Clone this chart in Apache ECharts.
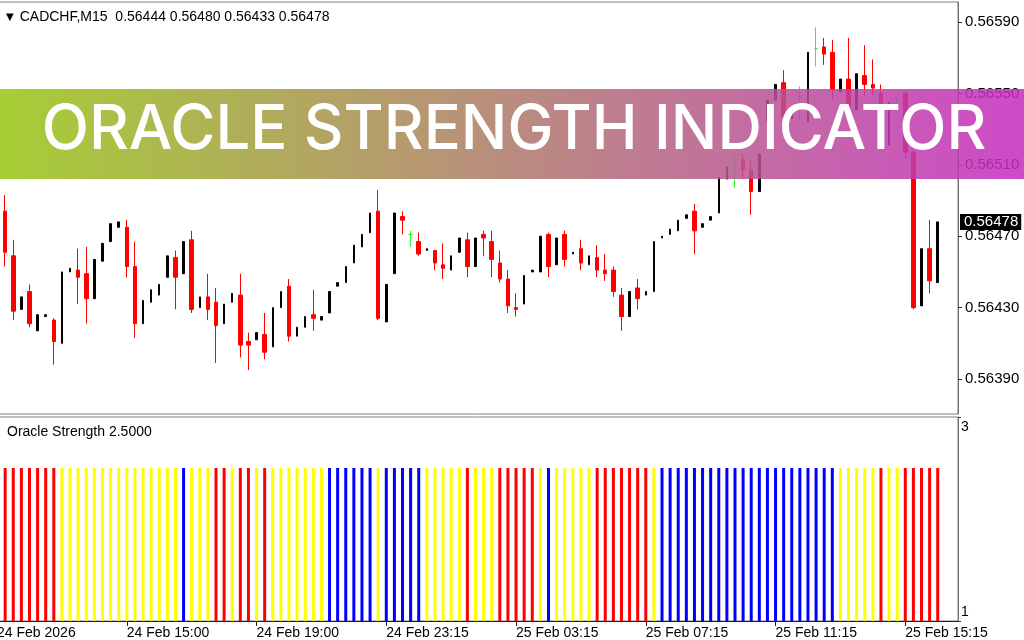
<!DOCTYPE html>
<html><head><meta charset="utf-8">
<script src="https://cdn.jsdelivr.net/npm/echarts@6/dist/echarts.min.js"></script>
<style>html,body{margin:0;padding:0;background:#fff}#c{width:1024px;height:640px}</style>
</head><body><div id="c"></div>
<script>
const symbolText = 'CADCHF,M15';
const headerOHLC = ['0.56444', '0.56480', '0.56433', '0.56478'];
const indicatorLabel = 'Oracle Strength 2.5000';
const bannerTitle = 'ORACLE STRENGTH INDICATOR';
const priceTicks = [0.56390, 0.56430, 0.56470, 0.56510, 0.56550, 0.56590];
const strengthTicks = [1, 3];
const timeTicks = ['24 Feb 2026', '24 Feb 15:00', '24 Feb 19:00', '24 Feb 23:15', '25 Feb 03:15', '25 Feb 07:15', '25 Feb 11:15', '25 Feb 15:15'];

const opens = [0.56484,0.56459,0.56429,0.56439,0.56417,0.56425,0.56423,0.56410,0.56450,0.56451,0.56449,0.56435,0.56456,0.56467,0.56475,0.56475,0.56453,0.56421,0.56433,0.56437,0.56447,0.56458,0.56449,0.56468,0.56430,0.56436,0.56433,0.56421,0.56433,0.56437,0.56411,0.56412,0.56415,0.56408,0.56430,0.56442,0.56414,0.56419,0.56426,0.56423,0.56427,0.56442,0.56444,0.56455,0.56464,0.56472,0.56484,0.56422,0.56449,0.56481,0.56471,0.56467,0.56462,0.56462,0.56454,0.56451,0.56461,0.56468,0.56453,0.56471,0.56467,0.56455,0.56446,0.56430,0.56432,0.56450,0.56450,0.56471,0.56454,0.56471,0.56460,0.56463,0.56454,0.56458,0.56451,0.56451,0.56437,0.56425,0.56441,0.56437,0.56439,0.56469,0.56471,0.56473,0.56480,0.56484,0.56475,0.56479,0.56483,0.56502,0.56509,0.56513,0.56507,0.56495,0.56534,0.56546,0.56556,0.56536,0.56548,0.56534,0.56575,0.56576,0.56573,0.56551,0.56558,0.56541,0.56560,0.56555,0.56550,0.56521,0.56547,0.56550,0.56517,0.56431,0.56463,0.56444];
const highs = [0.56493,0.56468,0.56436,0.56443,0.56426,0.56426,0.56424,0.56450,0.56452,0.56463,0.56464,0.56457,0.56466,0.56477,0.56478,0.56479,0.56467,0.56434,0.56440,0.56443,0.56459,0.56462,0.56467,0.56473,0.56436,0.56449,0.56441,0.56432,0.56438,0.56449,0.56416,0.56416,0.56427,0.56430,0.56439,0.56446,0.56419,0.56425,0.56440,0.56425,0.56439,0.56444,0.56453,0.56465,0.56471,0.56483,0.56496,0.56443,0.56483,0.56484,0.56473,0.56472,0.56463,0.56462,0.56466,0.56459,0.56469,0.56472,0.56469,0.56473,0.56473,0.56462,0.56451,0.56438,0.56448,0.56451,0.56470,0.56472,0.56469,0.56473,0.56461,0.56468,0.56459,0.56465,0.56460,0.56453,0.56441,0.56439,0.56446,0.56439,0.56467,0.56470,0.56474,0.56479,0.56482,0.56488,0.56477,0.56481,0.56503,0.56509,0.56515,0.56516,0.56513,0.56516,0.56546,0.56555,0.56563,0.56540,0.56554,0.56573,0.56587,0.56581,0.56580,0.56558,0.56581,0.56561,0.56577,0.56569,0.56555,0.56545,0.56548,0.56551,0.56518,0.56463,0.56479,0.56478];
const lows = [0.56453,0.56423,0.56429,0.56419,0.56417,0.56425,0.56398,0.56410,0.56450,0.56432,0.56421,0.56435,0.56456,0.56467,0.56475,0.56447,0.56413,0.56421,0.56433,0.56437,0.56447,0.56429,0.56449,0.56427,0.56430,0.56423,0.56399,0.56421,0.56433,0.56402,0.56395,0.56412,0.56401,0.56408,0.56430,0.56411,0.56414,0.56419,0.56417,0.56423,0.56427,0.56442,0.56444,0.56455,0.56464,0.56472,0.56423,0.56422,0.56449,0.56471,0.56464,0.56459,0.56462,0.56451,0.56446,0.56451,0.56461,0.56447,0.56453,0.56459,0.56447,0.56444,0.56427,0.56425,0.56432,0.56450,0.56450,0.56447,0.56454,0.56453,0.56460,0.56451,0.56454,0.56447,0.56445,0.56436,0.56417,0.56425,0.56429,0.56437,0.56439,0.56469,0.56471,0.56473,0.56480,0.56460,0.56475,0.56479,0.56483,0.56502,0.56497,0.56502,0.56482,0.56495,0.56534,0.56546,0.56535,0.56536,0.56534,0.56534,0.56565,0.56566,0.56547,0.56551,0.56540,0.56541,0.56548,0.56549,0.56536,0.56521,0.56545,0.56514,0.56429,0.56431,0.56438,0.56444];
const closes = [0.56461,0.56428,0.56436,0.56421,0.56426,0.56426,0.56411,0.56450,0.56452,0.56447,0.56435,0.56457,0.56466,0.56477,0.56478,0.56453,0.56421,0.56434,0.56440,0.56443,0.56459,0.56447,0.56467,0.56429,0.56436,0.56429,0.56420,0.56432,0.56438,0.56409,0.56409,0.56416,0.56405,0.56430,0.56439,0.56414,0.56419,0.56425,0.56424,0.56425,0.56439,0.56444,0.56453,0.56465,0.56471,0.56483,0.56424,0.56443,0.56483,0.56479,0.56471,0.56460,0.56463,0.56455,0.56452,0.56459,0.56469,0.56453,0.56469,0.56469,0.56457,0.56446,0.56431,0.56429,0.56448,0.56451,0.56470,0.56453,0.56469,0.56457,0.56461,0.56455,0.56459,0.56451,0.56449,0.56439,0.56425,0.56439,0.56435,0.56439,0.56467,0.56470,0.56474,0.56479,0.56482,0.56473,0.56477,0.56481,0.56503,0.56509,0.56509,0.56507,0.56495,0.56516,0.56546,0.56555,0.56537,0.56540,0.56548,0.56573,0.56575,0.56572,0.56552,0.56558,0.56542,0.56561,0.56555,0.56553,0.56540,0.56545,0.56547,0.56517,0.56430,0.56463,0.56445,0.56478];

// Oracle Strength histogram: R = red, Y = yellow, B = blue
const strengthStates = ('RRRRRRR' + 'YYYYYYYYYYYYYYY' + 'B' + 'YYY' + 'RR' + 'Y' + 'RR' + 'Y' + 'R' + 'YYYYYYY' + 'BBBBBB' + 'Y' + 'BBBBB' + 'YYYYY' + 'R' + 'YYY' + 'RRRRR' + 'Y' + 'B' + 'YYYYY' + 'RRRRRRR' + 'Y' + 'BBBBBBBBBBBBBBBBBBBBBB' + 'YYYYY' + 'R' + 'YY' + 'RRRRR').split('');
const strengthValues = [2.5,2.5,2.5,2.5,2.5,2.5,2.5,2.5,2.5,2.5,2.5,2.5,2.5,2.5,2.5,2.5,2.5,2.5,2.5,2.5,2.5,2.5,2.5,2.5,2.5,2.5,2.5,2.5,2.5,2.5,2.5,2.5,2.5,2.5,2.5,2.5,2.5,2.5,2.5,2.5,2.5,2.5,2.5,2.5,2.5,2.5,2.5,2.5,2.5,2.5,2.5,2.5,2.5,2.5,2.5,2.5,2.5,2.5,2.5,2.5,2.5,2.5,2.5,2.5,2.5,2.5,2.5,2.5,2.5,2.5,2.5,2.5,2.5,2.5,2.5,2.5,2.5,2.5,2.5,2.5,2.5,2.5,2.5,2.5,2.5,2.5,2.5,2.5,2.5,2.5,2.5,2.5,2.5,2.5,2.5,2.5,2.5,2.5,2.5,2.5,2.5,2.5,2.5,2.5,2.5,2.5,2.5,2.5,2.5,2.5,2.5,2.5,2.5,2.5,2.5,2.5];

// ---- layout helpers (not data) ----
const leadSlots = 1, trailSlots = 2, tickEvery = 16;
const slotCount = leadSlots + opens.length + trailSlots;
const categories = [];
for (let i = 0; i < slotCount; i++) categories.push(String(i));
const stateColor = { R: '#ff0000', Y: '#ffff00', B: '#0000ff' };
const FONT = 'Liberation Sans';
const priceMin = 0.563704, priceMax = 0.566012;

function candles(kind) {
  const out = [];
  opens.forEach((o, i) => {
    const c = closes[i];
    const k = c > o ? 'bull' : (c < o ? 'bear' : 'doji');
    if (k === kind) out.push([i + leadSlots, o, c, lows[i], highs[i]]);
  });
  return out;
}
const lastClose = closes[closes.length - 1];
const isTick = (idx) => idx % tickEvery === 0;

const chart = echarts.init(document.getElementById('c'), null, { renderer: 'canvas' });
chart.setOption({
  animation: false,
  backgroundColor: '#ffffff',
  title: [
    { text: '{t|▼}' + symbolText + '  ' + headerOHLC.join(' '), left: 1, top: 5,
      textStyle: { fontFamily: FONT, fontSize: 14, fontWeight: 'normal', color: '#000',
        rich: { t: { fontFamily: 'DejaVu Sans', fontSize: 10, color: '#000', padding: [0, 6, 0, 0] } } } },
    { text: indicatorLabel, left: 2, top: 420,
      textStyle: { fontFamily: FONT, fontSize: 14, fontWeight: 'normal', color: '#000' } }
  ],
  grid: [
    { left: -7, right: 66, top: 2, height: 412, show: true, borderColor: '#808080', borderWidth: 1,
      containLabel: false, outerBoundsMode: 'none' },
    { left: -7, right: 66, top: 417, height: 204, show: true, borderColor: '#808080', borderWidth: 1,
      containLabel: false, outerBoundsMode: 'none' }
  ],
  xAxis: [
    { type: 'category', gridIndex: 0, data: categories, boundaryGap: true,
      axisLine: { show: false }, axisTick: { show: false }, axisLabel: { show: false }, splitLine: { show: false } },
    { type: 'category', gridIndex: 1, data: categories, boundaryGap: true,
      axisLine: { show: true, lineStyle: { color: '#202020' } },
      axisTick: { show: true, alignWithLabel: true, interval: (i) => isTick(i), length: 5, lineStyle: { color: '#202020' } },
      axisLabel: { show: true, interval: (i) => isTick(i), formatter: (v, i) => timeTicks[i / tickEvery] || '',
        align: 'left', margin: 5, fontFamily: FONT, fontSize: 14, color: '#000', hideOverlap: false },
      splitLine: { show: false } }
  ],
  yAxis: [
    { type: 'value', gridIndex: 0, position: 'right', min: priceMin, max: priceMax,
      splitLine: { show: false },
      axisLine: { show: true, lineStyle: { color: '#707070' } },
      axisTick: { show: true, customValues: priceTicks, length: 4, lineStyle: { color: '#303030' } },
      axisLabel: { show: true, customValues: priceTicks, formatter: (v) => v.toFixed(5), margin: 7,
        fontFamily: FONT, fontSize: 15, color: '#000' } },
    { type: 'value', gridIndex: 1, position: 'right', min: 1, max: 3,
      splitLine: { show: false },
      axisLine: { show: true, lineStyle: { color: '#707070' } },
      axisTick: { show: true, customValues: strengthTicks, length: 3, lineStyle: { color: '#303030' } },
      axisLabel: { show: true, customValues: strengthTicks, margin: 3,
        formatter: (v) => v === 3 ? '{top|3}' : '{bot|1}',
        fontFamily: FONT, fontSize: 14, color: '#000',
        rich: { top: { padding: [20, 0, 0, 0], fontFamily: FONT, fontSize: 14 },
                bot: { padding: [0, 0, 17, 0], fontFamily: FONT, fontSize: 14 } } } },
    // current price tag on the price scale
    { type: 'value', gridIndex: 0, position: 'right', min: priceMin, max: priceMax, z: 20,
      splitLine: { show: false }, axisLine: { show: false }, axisTick: { show: false },
      axisLabel: { show: true, customValues: [lastClose], formatter: (v) => v.toFixed(5), margin: 2,
        backgroundColor: '#000', color: '#fff', padding: [1, 3, 0, 4], fontFamily: FONT, fontSize: 15 } }
  ],
  series: [
    { name: 'bull', type: 'candlestick', xAxisIndex: 0, yAxisIndex: 0, barWidth: 2,
      encode: { x: 0, y: [1, 2, 3, 4] }, data: candles('bull'),
      itemStyle: { color: '#000', color0: '#000', borderColor: '#000', borderColor0: '#000', borderWidth: 1 } },
    { name: 'bear', type: 'candlestick', xAxisIndex: 0, yAxisIndex: 0, barWidth: 4,
      encode: { x: 0, y: [1, 2, 3, 4] }, data: candles('bear'),
      itemStyle: { color: '#ff0000', color0: '#ff0000', borderColor: '#ff0000', borderColor0: '#ff0000', borderWidth: 1 } },
    { name: 'doji', type: 'candlestick', xAxisIndex: 0, yAxisIndex: 0, barWidth: 4,
      encode: { x: 0, y: [1, 2, 3, 4] }, data: candles('doji'),
      itemStyle: { color: '#3cf03c', color0: '#3cf03c', borderColor: '#3cf03c', borderColor0: '#3cf03c', borderColorDoji: '#3cf03c', borderWidth: 1 } },
    { name: 'strength', type: 'bar', xAxisIndex: 1, yAxisIndex: 1, barWidth: 3,
      encode: { x: 0, y: 1 },
      data: strengthValues.map((v, i) => ({ value: [i + leadSlots, v], itemStyle: { color: stateColor[strengthStates[i]] } })) }
  ],
  graphic: [
    { type: 'rect', x: 0, y: 89, z: 100, silent: true,
      shape: { width: 1024, height: 90 },
      style: { opacity: 0.86, fill: new echarts.graphic.LinearGradient(0, 0, 1, 0, [
        { offset: 0, color: '#98c614' }, { offset: 1, color: '#c52cc0' }]) } },
    { type: 'text', x: 514, y: 130.5, z: 101, silent: true,
      style: { text: bannerTitle, fill: '#ffffff', font: '500 61.6px Inter', align: 'center', verticalAlign: 'middle' } }
  ]
});
</script>
</body></html>
